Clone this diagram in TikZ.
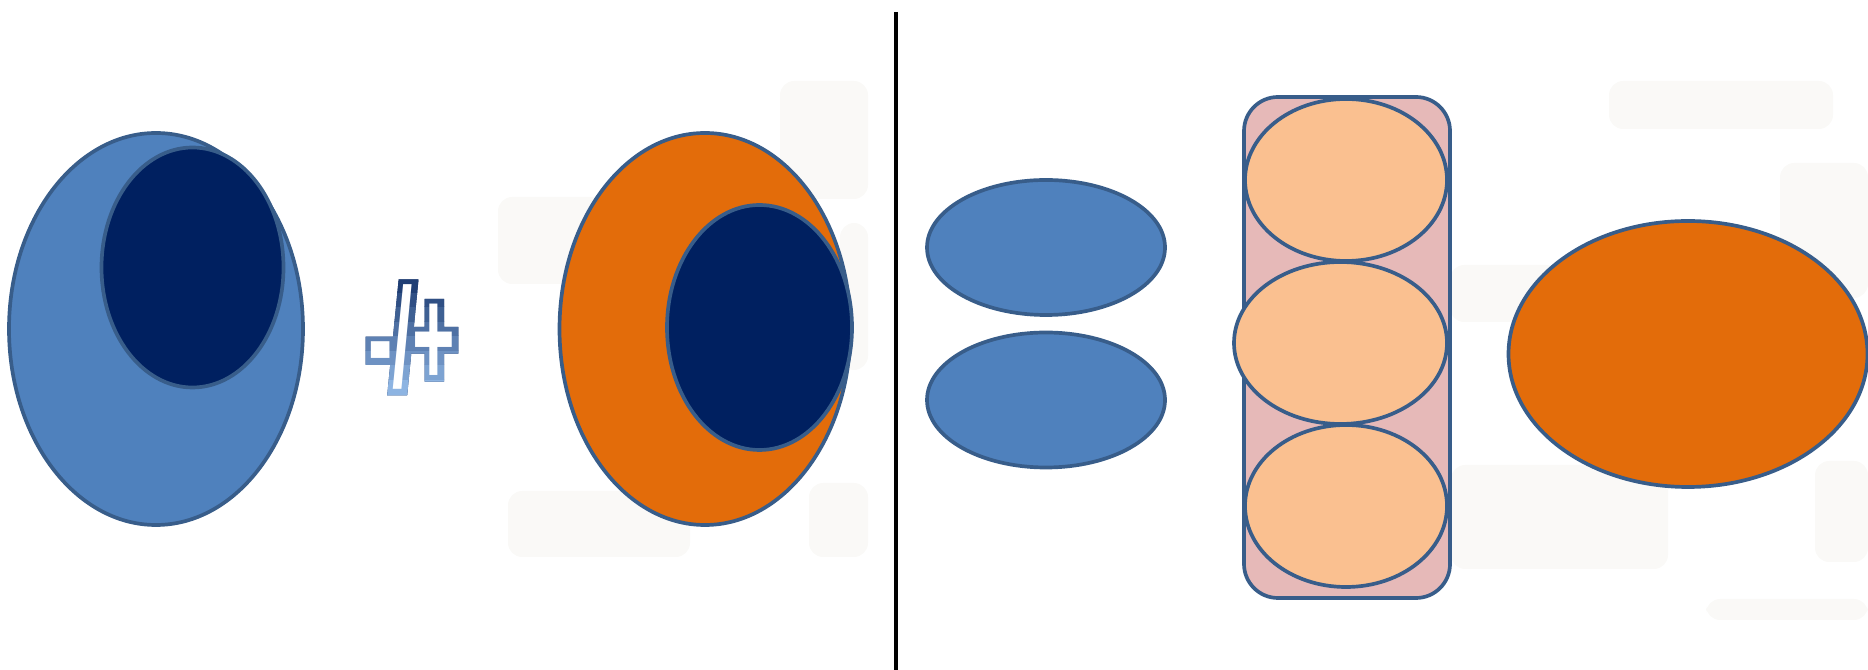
\documentclass[tikz,border=0pt]{standalone}
\usepackage{fontspec}
\usetikzlibrary{positioning,shapes.geometric}
\newfontfamily\signfont[FakeBold=8,FakeStretch=0.52]{Liberation Sans Bold}
\newfontfamily\signplain[FakeStretch=0.52]{Liberation Sans Bold}
\definecolor{lblue}{RGB}{79,129,189}
\definecolor{navy}{RGB}{0,32,96}
\definecolor{orng}{RGB}{227,108,10}
\definecolor{rim}{RGB}{56,93,138}
\definecolor{pink}{RGB}{230,185,184}
\definecolor{peach}{RGB}{250,192,144}
\definecolor{haze}{RGB}{250,249,247}
\definecolor{signdark}{RGB}{20,50,105}
\definecolor{signlight}{RGB}{141,180,226}

\begin{document}
\begin{tikzpicture}[
  blob/.style={ellipse, draw=rim, line width=1.05pt, inner sep=0pt},
  sign/.style={inner sep=0pt, anchor=base, font=\fontsize{40}{40}\selectfont}]
  \useasboundingbox (0,0) rectangle (18.68,6.70);
  % faint patches behind everything
  \foreach \xa/\ya/\xb/\yb in {7.80/5.89/8.68/4.71, 4.98/4.73/6.20/3.86,
      8.40/4.47/8.68/3.00, 5.08/1.79/6.90/1.13, 8.09/1.87/8.68/1.13,
      16.09/5.89/18.33/5.41, 17.80/5.07/18.68/3.72, 14.50/4.05/15.60/3.48,
      14.51/2.05/16.68/1.01, 18.15/2.09/18.68/1.08, 17.06/0.71/18.68/0.50}
    \fill[haze, rounded corners=4pt] (\xa,\ya) rectangle (\xb,\yb);

  % left half
  \node[blob, fill=lblue, minimum width=2.94cm, minimum height=3.92cm] (outerL) at (1.56,3.41) {};
  \node[blob, fill=navy, minimum width=1.82cm, minimum height=2.40cm] (innerL) at (1.925,4.025) {};
  \node[blob, fill=orng, minimum width=2.91cm, minimum height=3.92cm] (outerR) at (7.05,3.41) {};
  \node[blob, fill=navy, minimum width=1.85cm, minimum height=2.45cm] (innerR) at (7.595,3.425) {};

  % -/+ with a dark-to-light outline, built up in bands
  \node[sign, text=signdark] (sgn) at (4.12,2.83) {\signfont -/+};
  \foreach \i in {0,...,7} {
    \pgfmathsetmacro\lo{\i==0 ? 2.4 : 2.76+0.145*\i}
    \pgfmathsetmacro\hi{2.76+0.145*(\i+1)}
    \pgfmathtruncatemacro\mix{100-\i*13}
    \begin{scope}
      \clip (3.5,\lo) rectangle (4.8,\hi);
      \node[sign, text=signlight!\mix!signdark] (sgn\i) at (sgn.base) {\signfont -/+};
    \end{scope}
  }
  \node[sign, text=white] (sgnface) at (sgn.base) {\signplain -/+};

  % divider
  \coordinate (divtop) at (8.96,6.58);
  \coordinate (divbot) at (8.96,0);
  \draw[line width=1pt] (divtop) -- (divbot);

  % right half
  \node[blob, fill=lblue, minimum width=2.38cm, minimum height=1.35cm] (pairA) at (10.46,4.225) {};
  \node[blob, fill=lblue, minimum width=2.38cm, minimum height=1.35cm] (pairB) at (10.46,2.70) {};

  \node[draw=rim, fill=pink, line width=1.05pt, rounded corners=0.34cm, inner sep=0pt,
        minimum width=2.06cm, minimum height=5.01cm] (stack) at (13.47,3.225) {};
  \node[blob, fill=peach, minimum width=2.02cm, minimum height=1.62cm] (cellA) at (13.46,4.90) {};
  \node[blob, fill=peach, minimum width=2.02cm, minimum height=1.62cm] (cellC) at (13.46,1.64) {};
  \node[blob, fill=peach, minimum width=2.13cm, minimum height=1.62cm] (cellB) at (13.405,3.27) {};

  \node[blob, fill=orng, minimum width=3.59cm, minimum height=2.66cm] (whole) at (16.88,3.16) {};
\end{tikzpicture}
\end{document}
